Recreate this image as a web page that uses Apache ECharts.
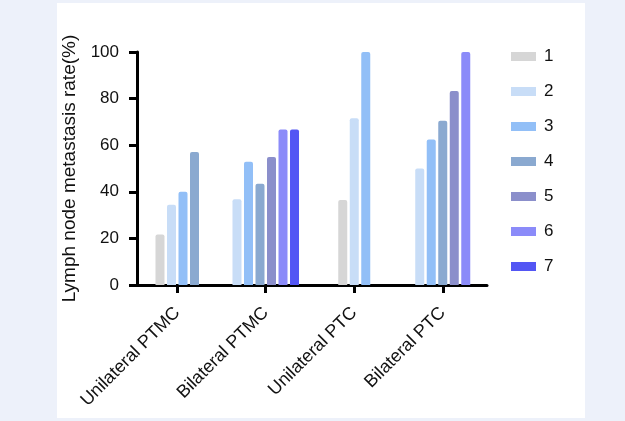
<!DOCTYPE html>
<html>
<head>
<meta charset="utf-8">
<script src="https://cdn.jsdelivr.net/npm/echarts@6/dist/echarts.min.js"></script>
<style>
  html, body { margin: 0; padding: 0; background: #EDF1FA; }
  #panel { position: absolute; left: 57px; top: 3px; width: 528px; height: 415px; background: #fff; }
  #chart { position: absolute; left: 0; top: 0; width: 625px; height: 421px; }
</style>
</head>
<body>
<div id="panel"></div>
<div id="chart"></div>
<script>
// categories on the x axis
const categories = ['Unilateral PTMC', 'Bilateral PTMC', 'Unilateral PTC', 'Bilateral PTC']
// legend entries 1..7, null = no bar in that group
const seriesNames = ['1', '2', '3', '4', '5', '6', '7']
const s1 = [21.7, null, 36.5, null]
const s2 = [34.4, 36.8, 71.6, 50.0]
const s3 = [40.0, 52.9, 100, 62.5]
const s4 = [57.1, 43.5, null, 70.5]
const s5 = [null, 54.9, null, 83.3]
const s6 = [null, 66.7, null, 100]
const s7 = [null, 66.7, null, null]
const yTicks = [0, 20, 40, 60, 80, 100]

const values = [s1, s2, s3, s4, s5, s6, s7]
const colors = ['#D6D6D6', '#C8DDF7', '#92BFF7', '#8AA9D0', '#8B8FCB', '#8B8BF9', '#5356F4']

// bars of a group are centred on its tick, skipping empty slots
const pitch = 0.13
function positions(si) {
  const out = []
  categories.forEach((c, g) => {
    const present = values.map((v, i) => v[g] != null ? i : -1).filter(i => i >= 0)
    const k = present.indexOf(si)
    if (k < 0) return
    out.push([g + (k - (present.length - 1) / 2) * pitch, values[si][g]])
  })
  return out
}

const chart = echarts.init(document.getElementById('chart'), null, { renderer: 'canvas' })
const font = 'Liberation Sans, Arial, sans-serif'
const black = { color: '#000', width: 3 }

chart.setOption({
  backgroundColor: 'transparent',
  animation: false,
  textStyle: { fontFamily: font },
  legend: {
    orient: 'vertical', left: 506, top: 43,
    itemWidth: 25, itemHeight: 9, itemGap: 18,
    icon: 'rect',
    textStyle: { fontSize: 17, color: '#111', fontFamily: font, padding: [0, 0, 0, 3] },
    data: seriesNames,
  },
  grid: [
    { left: 133, right: 138, top: 52, bottom: 136 },
    // spans tick to tick, only used for the category ticks
    { left: 177, right: 182, top: 52, bottom: 136 },
  ],
  xAxis: [
    {
      type: 'category', data: categories, boundaryGap: true, gridIndex: 0,
      axisLine: { show: true, lineStyle: black },
      axisTick: { show: false },
      axisLabel: { rotate: 45, interval: 0, fontSize: 18, color: '#111', margin: 25, fontFamily: font },
    },
    { type: 'value', min: -0.5, max: 3.5, show: false, gridIndex: 0 },
    {
      type: 'value', min: 0, max: categories.length - 1, interval: 1, gridIndex: 1,
      axisLine: { show: false }, axisLabel: { show: false }, splitLine: { show: false },
      axisTick: { show: true, length: 8, lineStyle: black },
    },
  ],
  yAxis: [
    {
      type: 'value', min: yTicks[0], max: yTicks[yTicks.length - 1], interval: 20, gridIndex: 0,
      offset: -4,
      name: 'Lymph node metastasis rate(%)', nameLocation: 'middle', nameGap: 56,
      nameTextStyle: { fontSize: 19, color: '#111', fontFamily: font },
      axisLine: { show: true, onZero: false, lineStyle: black },
      axisTick: { show: true, length: 8, lineStyle: black },
      axisLabel: { fontSize: 17, color: '#111', margin: 18, fontFamily: font },
      splitLine: { show: false },
    },
    { type: 'value', min: 0, max: 100, show: false, gridIndex: 1 },
  ],
  series: seriesNames.map((name, i) => ({
    name, type: 'bar', xAxisIndex: 1, yAxisIndex: 0,
    barWidth: 9, barGap: '-100%',
    itemStyle: { color: colors[i], borderRadius: [2, 2, 0, 0] },
    data: positions(i),
  })),
})
</script>
</body>
</html>
